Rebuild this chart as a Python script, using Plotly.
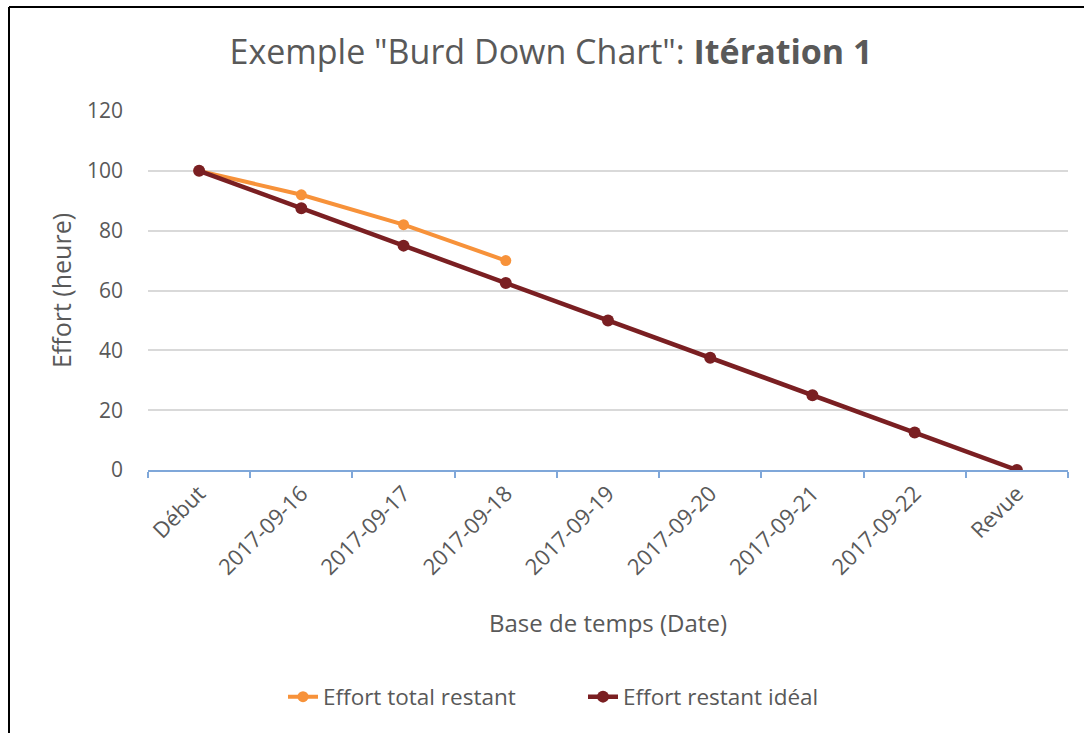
import plotly.graph_objects as go

categories = ["Début", "2017-09-16", "2017-09-17", "2017-09-18", "2017-09-19",
              "2017-09-20", "2017-09-21", "2017-09-22", "Revue"]
effort_total_restant = [100, 92, 82, 70]
effort_restant_ideal = [100, 87.5, 75, 62.5, 50, 37.5, 25, 12.5, 0]
y_ticks = [0, 20, 40, 60, 80, 100, 120]

ORANGE = "#F7923A"
DARKRED = "#7A1F22"
GRAY = "#595959"
FONT = "Open Sans, Lato, sans-serif"

fig = go.Figure()
fig.add_trace(go.Scatter(
    x=categories[:len(effort_total_restant)], y=effort_total_restant,
    name="Effort total restant", mode="lines+markers",
    line=dict(color=ORANGE, width=4), marker=dict(color=ORANGE, size=11)))
fig.add_trace(go.Scatter(
    x=categories, y=effort_restant_ideal,
    name="Effort restant idéal", mode="lines+markers",
    line=dict(color=DARKRED, width=4.5), marker=dict(color=DARKRED, size=12)))

# plot-area geometry in px: x 148..1068, y 111..470
L, R, T, B = 148, 16, 111, 263
W = 1084 - L - R
H = 733 - T - B

def px_to_paper_x(px):
    return (px - L) / W

def px_to_paper_y(py):
    return (733 - B - py) / H

fig.update_layout(
    width=1084, height=733,
    margin=dict(l=L, r=R, t=T, b=B),
    paper_bgcolor="white", plot_bgcolor="white",
    font=dict(family=FONT, color=GRAY, size=20),
    title=dict(text='Exemple "Burd Down Chart": <b>Itération 1</b>',
               x=551 / 1084, xanchor="center", y=1 - 52 / 733, yanchor="middle",
               font=dict(size=34, color=GRAY, family=FONT)),
    showlegend=True,
    legend=dict(orientation="h", x=px_to_paper_x(283), xanchor="left",
                y=px_to_paper_y(697), yanchor="middle",
                entrywidth=255, entrywidthmode="pixels",
                font=dict(size=22.5, color=GRAY)),
    xaxis=dict(type="category", tickangle=-45, tickson="boundaries",
               showgrid=False, showline=True, linecolor="#7FA7D9", linewidth=2,
               ticks="outside", ticklen=6, tickcolor="#7FA7D9", tickwidth=1.5,
               tickfont=dict(size=22, color=GRAY),
               title=dict(text="Base de temps (Date)", font=dict(size=24, color=GRAY),
                          standoff=36),
               range=[-0.5, 8.5]),
    yaxis=dict(range=[0, 120], tickvals=y_ticks, showgrid=True,
               gridcolor="#D9D9D9", gridwidth=1.5, zeroline=False,
               showline=False, ticks="", tickfont=dict(size=21, color=GRAY),
               ticklabelstandoff=24,
               title=dict(text="Effort (heure)", font=dict(size=25, color=GRAY),
                          standoff=8)),
    shapes=[
        dict(type="line", xref="paper", yref="paper",
             x0=px_to_paper_x(9), x1=px_to_paper_x(1090),
             y0=px_to_paper_y(7), y1=px_to_paper_y(7),
             line=dict(color="black", width=2)),
        dict(type="line", xref="paper", yref="paper",
             x0=px_to_paper_x(9), x1=px_to_paper_x(9),
             y0=px_to_paper_y(7), y1=px_to_paper_y(740),
             line=dict(color="black", width=2)),
    ],
)

fig.write_html("out.html", config={"displayModeBar": False},
               post_script="document.body.style.margin='0';")
